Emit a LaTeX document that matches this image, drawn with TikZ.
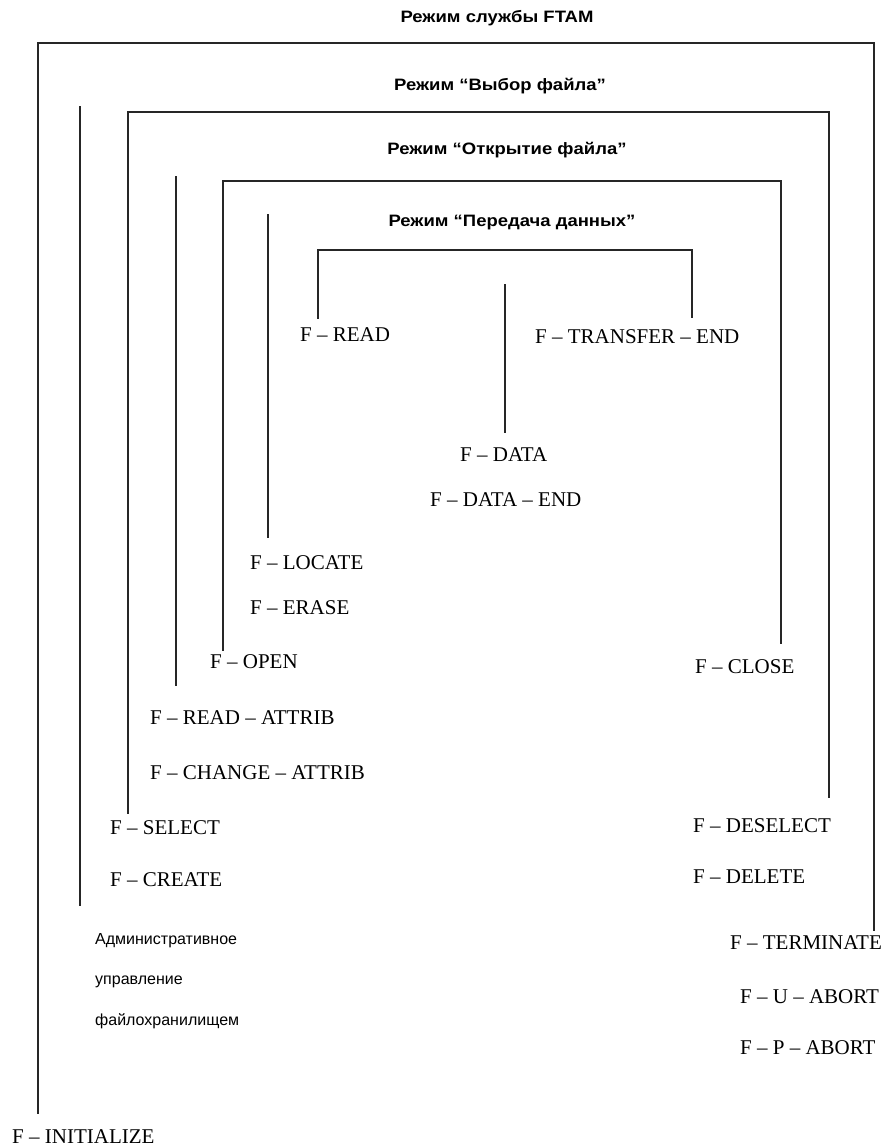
\documentclass[tikz,border=0pt]{standalone}
\usepackage{fontspec}
\setmainfont{Liberation Serif}
\newfontfamily\hdrfont{Liberation Sans}
\newfontfamily\hdrwide[FakeStretch=1.12]{Liberation Sans}
\begin{document}
\begin{tikzpicture}[x=1pt,y=-1pt,
  frame/.style={line width=2.4pt, black!85, line cap=rect},
  flabel/.style={anchor=west, inner sep=0pt, font=\fontsize{21}{24}\selectfont},
  hlabel/.style={anchor=center, inner sep=0pt, font=\hdrwide\bfseries\fontsize{16.5}{19}\selectfont},
  alabel/.style={anchor=west, inner sep=0pt, font=\hdrfont\fontsize{16}{19}\selectfont}]
\useasboundingbox (0,0) rectangle (885,1147);
\fill[white] (0,0) rectangle (885,1147);
% headers
\node[hlabel] (h1) at (497,18) {Режим службы FTAM};
\node[hlabel] (h2) at (500,86) {Режим “Выбор файла”};
\node[hlabel] (h3) at (507,150) {Режим “Открытие файла”};
\node[hlabel] (h4) at (512,223) {Режим “Передача данных”};
% brackets
\draw[frame] (38,1113) -- (38,43) -- (874,43) -- (874,930);
\draw[frame] (80,107) -- (80,905);
\draw[frame] (128,813) -- (128,112) -- (829,112) -- (829,797);
\draw[frame] (176,177) -- (176,685);
\draw[frame] (223,650) -- (223,181) -- (781,181) -- (781,643);
\draw[frame] (268,215) -- (268,537);
\draw[frame] (318,318) -- (318,250) -- (692,250) -- (692,317);
\draw[frame] (505,285) -- (505,432);
% labels
\node[flabel] (read) at (300,335) {F – READ};
\node[flabel] (tend) at (535,337) {F – TRANSFER – END};
\node[flabel] (data) at (460,455) {F – DATA};
\node[flabel] (dend) at (430,500) {F – DATA – END};
\node[flabel] (locate) at (250,563) {F – LOCATE};
\node[flabel] (erase) at (250,608) {F – ERASE};
\node[flabel] (open) at (210,662) {F – OPEN};
\node[flabel] (rattr) at (150,718) {F – READ – ATTRIB};
\node[flabel] (cattr) at (150,773) {F – CHANGE – ATTRIB};
\node[flabel] (select) at (110,828) {F – SELECT};
\node[flabel] (create) at (110,880) {F – CREATE};
\node[flabel] (close) at (695,667) {F – CLOSE};
\node[flabel] (desel) at (693,826) {F – DESELECT};
\node[flabel] (delete) at (693,877) {F – DELETE};
\node[flabel] (term) at (730,943) {F – TERMINATE};
\node[flabel] (uab) at (740,997) {F – U – ABORT};
\node[flabel] (pab) at (740,1048) {F – P – ABORT};
\node[flabel] (init) at (12,1137) {F – INITIALIZE};
\node[alabel] (adm1) at (95,941) {Административное};
\node[alabel] (adm2) at (95,982) {управление};
\node[alabel] (adm3) at (95,1021) {файлохранилищем};
\end{tikzpicture}
\end{document}
